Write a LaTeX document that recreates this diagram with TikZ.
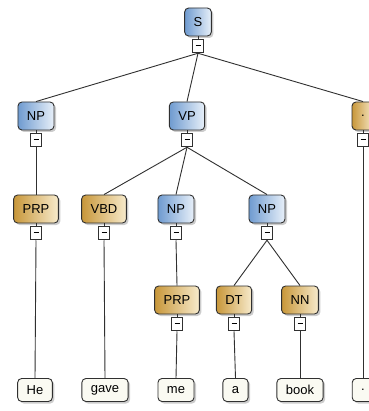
\documentclass[tikz,border=0pt]{standalone}
\usepackage{fontspec}
\setmainfont{Liberation Sans}
\usetikzlibrary{shadows,positioning}
\definecolor{blueL}{HTML}{6F9BD0}
\definecolor{blueR}{HTML}{E8F0F9}
\definecolor{goldL}{HTML}{C8973A}
\definecolor{goldR}{HTML}{F7EACB}
\definecolor{leaffill}{HTML}{FAFAF2}
\definecolor{edgecol}{HTML}{303030}
\tikzset{
  cat/.style={draw=edgecol, line width=0.9pt, rounded corners=4pt,
    minimum height=28pt, inner xsep=9pt, inner ysep=2pt,
    font=\fontsize{13}{15}\selectfont,
    drop shadow={shadow xshift=2pt, shadow yshift=-2pt, opacity=0.2, fill=black}},
  bluecat/.style={cat, left color=blueL, right color=blueR},
  goldcat/.style={cat, left color=goldL, right color=goldR},
  leafbox/.style={cat, fill=leaffill, minimum height=23pt},
  cbox/.style={draw=edgecol, line width=0.8pt, fill=white, minimum width=11pt,
    minimum height=13pt, inner sep=0pt},
  conn/.style={draw=edgecol, line width=0.9pt}
}
\newcommand{\collbox}[1]{%
  \node[cbox, below=3pt of #1] (#1c) {\rule[2.5pt]{5pt}{0.9pt}};
  \draw[conn] (#1.south) -- (#1c.north);}
\begin{document}
\begin{tikzpicture}[x=1pt,y=-1pt]
\useasboundingbox[fill=white] (0,0) rectangle (368,411);
% row 1
\node[bluecat] (S) at (198,22) {S};
% row 2
\node[bluecat] (NPa) at (36,116) {NP};
\node[bluecat] (VP) at (187,116) {VP};
\node[goldcat, minimum width=22pt] (PU) at (363,116) {.};
% row 3
\node[goldcat] (PRPa) at (36,209) {PRP};
\node[goldcat] (VBD) at (104,209) {VBD};
\node[bluecat] (NPb) at (176,209) {NP};
\node[bluecat] (NPc) at (267,209) {NP};
% row 4
\node[goldcat] (PRPb) at (177,300) {PRP};
\node[goldcat] (DT) at (234,300) {DT};
\node[goldcat] (NN) at (300,300) {NN};
% leaves
\node[leafbox] (He) at (35,390) {He};
\node[leafbox] (gave) at (105,390) {gave};
\node[leafbox] (me) at (176,390) {me};
\node[leafbox] (a) at (235.5,390) {a};
\node[leafbox] (book) at (300,390) {book};
\node[leafbox, minimum width=20pt] (dot) at (363,390) {.};
% collapse boxes
\collbox{S}
\collbox{NPa}
\collbox{VP}
\collbox{PU}
\collbox{PRPa}
\collbox{VBD}
\collbox{NPb}
\collbox{NPc}
\collbox{PRPb}
\collbox{DT}
\collbox{NN}
% edges
\draw[conn] (Sc.south) -- (NPa.north);
\draw[conn] (Sc.south) -- (VP.north);
\draw[conn] (Sc.south) -- (PU.north);
\draw[conn] (NPac.south) -- (PRPa.north);
\draw[conn] (VPc.south) -- (VBD.north);
\draw[conn] (VPc.south) -- (NPb.north);
\draw[conn] (VPc.south) -- (NPc.north);
\draw[conn] (NPbc.south) -- (PRPb.north);
\draw[conn] (NPcc.south) -- (DT.north);
\draw[conn] (NPcc.south) -- (NN.north);
\draw[conn] (PRPac.south) -- (He.north);
\draw[conn] (VBDc.south) -- (gave.north);
\draw[conn] (PRPbc.south) -- (me.north);
\draw[conn] (DTc.south) -- (a.north);
\draw[conn] (NNc.south) -- (book.north);
\draw[conn] (PUc.south) -- (dot.north);
\end{tikzpicture}
\end{document}
